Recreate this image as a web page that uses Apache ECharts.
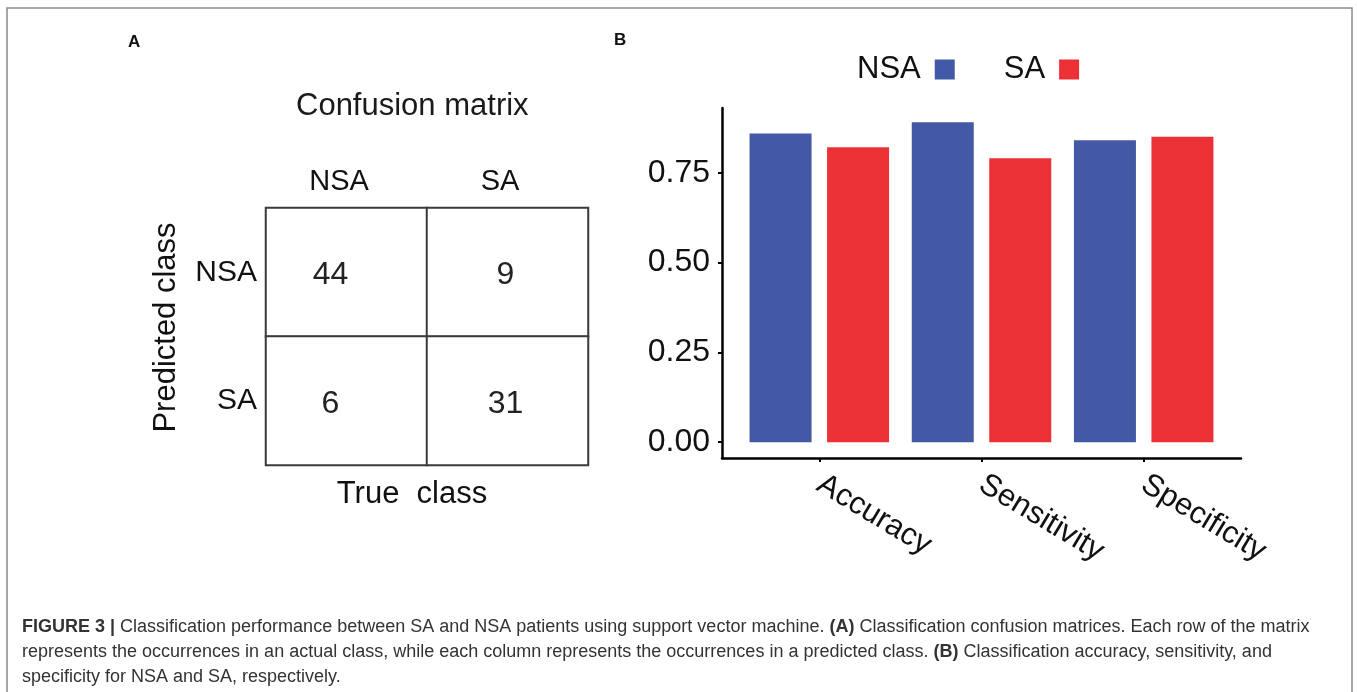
<!DOCTYPE html>
<html><head><meta charset="utf-8">
<script src="https://cdn.jsdelivr.net/npm/echarts@6/dist/echarts.min.js"></script>
<style>html,body{margin:0;padding:0;background:#fff}#chart{width:1357px;height:692px}</style>
</head><body><div id="chart"></div>
<script>
// ---- data ----
const metricCategories = ['Accuracy', 'Sensitivity', 'Specificity'];
const nsaValues = [0.859, 0.890, 0.840];
const saValues = [0.821, 0.790, 0.850];
const yTickValues = [0, 0.25, 0.5, 0.75];
const classLabels = ['NSA', 'SA'];
// rows = predicted class, columns = true class
const confusionCounts = [[44, 9], [6, 31]];
const captionLines = [
  '{b|FIGURE 3 |} Classification performance between SA and NSA patients using support vector machine. {b|(A)} Classification confusion matrices. Each row of the matrix',
  'represents the occurrences in an actual class, while each column represents the occurrences in a predicted class. {b|(B)} Classification accuracy, sensitivity, and',
  'specificity for NSA and SA, respectively.'
];

// ---- styling ----
const NARROW = "'Liberation Sans Narrow', 'Liberation Sans', Arial, sans-serif";
const SANS = "'Liberation Sans', Arial, sans-serif";
const INK = '#111';
const BLUE = '#4459A5';
const RED = '#EB3136';

const heatData = [];
confusionCounts.forEach((row, r) => row.forEach((v, c) => {
  heatData.push({ value: [c, r, v], label: { offset: c === 0 ? [-16, 3] : [-2, 3] } });
}));

const chart = echarts.init(document.getElementById('chart'), null, { renderer: 'canvas' });
chart.setOption({
  backgroundColor: '#fff',
  animation: false,
  title: [
    { text: 'A', left: 128, top: 34, padding: 0, textStyle: { fontFamily: SANS, fontWeight: 'bold', fontSize: 17, color: INK } },
    { text: 'B', left: 614, top: 32, padding: 0, textStyle: { fontFamily: SANS, fontWeight: 'bold', fontSize: 17, color: INK } },
    { text: 'Confusion matrix', left: 296, top: 91, padding: 0, textStyle: { fontFamily: NARROW, fontWeight: 'normal', fontSize: 31, color: '#1a1a1a' } }
  ],
  legend: {
    data: ['NSA', 'SA'],
    align: 'right',
    left: 857, top: 54, padding: 0,
    itemWidth: 20, itemHeight: 20, itemGap: 49,
    icon: 'rect',
    textStyle: { fontFamily: NARROW, fontSize: 31, color: INK, padding: [0, 9, 0, 0] }
  },
  grid: [
    { left: 722, top: 108, width: 519, height: 350 },
    { left: 266, top: 208, width: 322, height: 257 }
  ],
  xAxis: [
    {
      type: 'value', gridIndex: 0, min: -0.6, max: 2.6,
      splitLine: { show: false },
      axisLine: { show: true, onZero: false, lineStyle: { color: '#000', width: 2.5 } },
      axisTick: { show: true, customValues: [0, 1, 2], length: 4, lineStyle: { color: '#000', width: 2 } },
      axisLabel: {
        customValues: [0, 1, 2], formatter: v => metricCategories[Math.round(v)],
        rotate: -31, margin: 24, fontFamily: NARROW, fontSize: 31, color: INK
      }
    },
    {
      type: 'category', gridIndex: 1, data: classLabels, position: 'top',
      axisLine: { show: false }, axisTick: { show: false },
      axisLabel: { margin: 12, padding: [0, 15, 0, 0], fontFamily: NARROW, fontSize: 29, color: INK }
    },
    {
      type: 'category', gridIndex: 1, data: classLabels, position: 'bottom',
      axisLine: { show: false }, axisTick: { show: false }, axisLabel: { show: false },
      name: 'True  class', nameLocation: 'middle', nameGap: 14,
      nameTextStyle: { fontFamily: NARROW, fontSize: 31, color: INK, padding: [0, 30, 0, 0] }
    }
  ],
  yAxis: [
    {
      type: 'value', gridIndex: 0, min: -0.044, max: 0.93,
      splitLine: { show: false },
      axisLine: { show: true, onZero: false, lineStyle: { color: '#000', width: 2.5 } },
      axisTick: { show: true, customValues: yTickValues, length: 4, lineStyle: { color: '#000', width: 2 } },
      axisLabel: {
        customValues: yTickValues, formatter: v => v.toFixed(2),
        margin: 12, fontFamily: NARROW, fontSize: 32, color: INK
      }
    },
    {
      type: 'category', gridIndex: 1, data: classLabels, inverse: true,
      axisLine: { show: false }, axisTick: { show: false },
      axisLabel: { margin: 9, fontFamily: NARROW, fontSize: 30, color: INK },
      name: 'Predicted class', nameLocation: 'middle', nameGap: 84,
      nameTextStyle: { fontFamily: NARROW, fontSize: 31, color: INK, padding: [0, 0, 0, 18] }
    }
  ],
  series: [
    {
      name: 'NSA', type: 'bar', xAxisIndex: 0, yAxisIndex: 0,
      data: nsaValues.map((v, i) => [i, v]),
      barWidth: 62, barGap: '25%',
      itemStyle: { color: BLUE }
    },
    {
      name: 'SA', type: 'bar', xAxisIndex: 0, yAxisIndex: 0,
      data: saValues.map((v, i) => [i, v]),
      barWidth: 62, barGap: '25%',
      itemStyle: { color: RED }
    },
    {
      type: 'heatmap', xAxisIndex: 1, yAxisIndex: 1,
      data: heatData,
      itemStyle: { color: '#fff', borderColor: '#3a3a3a', borderWidth: 2 },
      label: { show: true, formatter: p => p.value[2], fontFamily: NARROW, fontSize: 32, color: '#222' },
      emphasis: { disabled: true }
    }
  ],
  graphic: [
    {
      type: 'polyline', silent: true,
      shape: { points: [[7, 692], [7, 8], [1352, 8], [1352, 692]] },
      style: { stroke: '#8a8a8a', lineWidth: 1.5, fill: null }
    },
    ...captionLines.map((t, i) => ({
      type: 'text', silent: true, left: 22, top: 618 + i * 25,
      style: {
        text: t, fontFamily: SANS, fontSize: 18, fill: '#333',
        rich: { b: { fontFamily: SANS, fontSize: 18, fontWeight: 'bold', fill: '#333' } }
      }
    }))
  ]
});
</script>
</body></html>
